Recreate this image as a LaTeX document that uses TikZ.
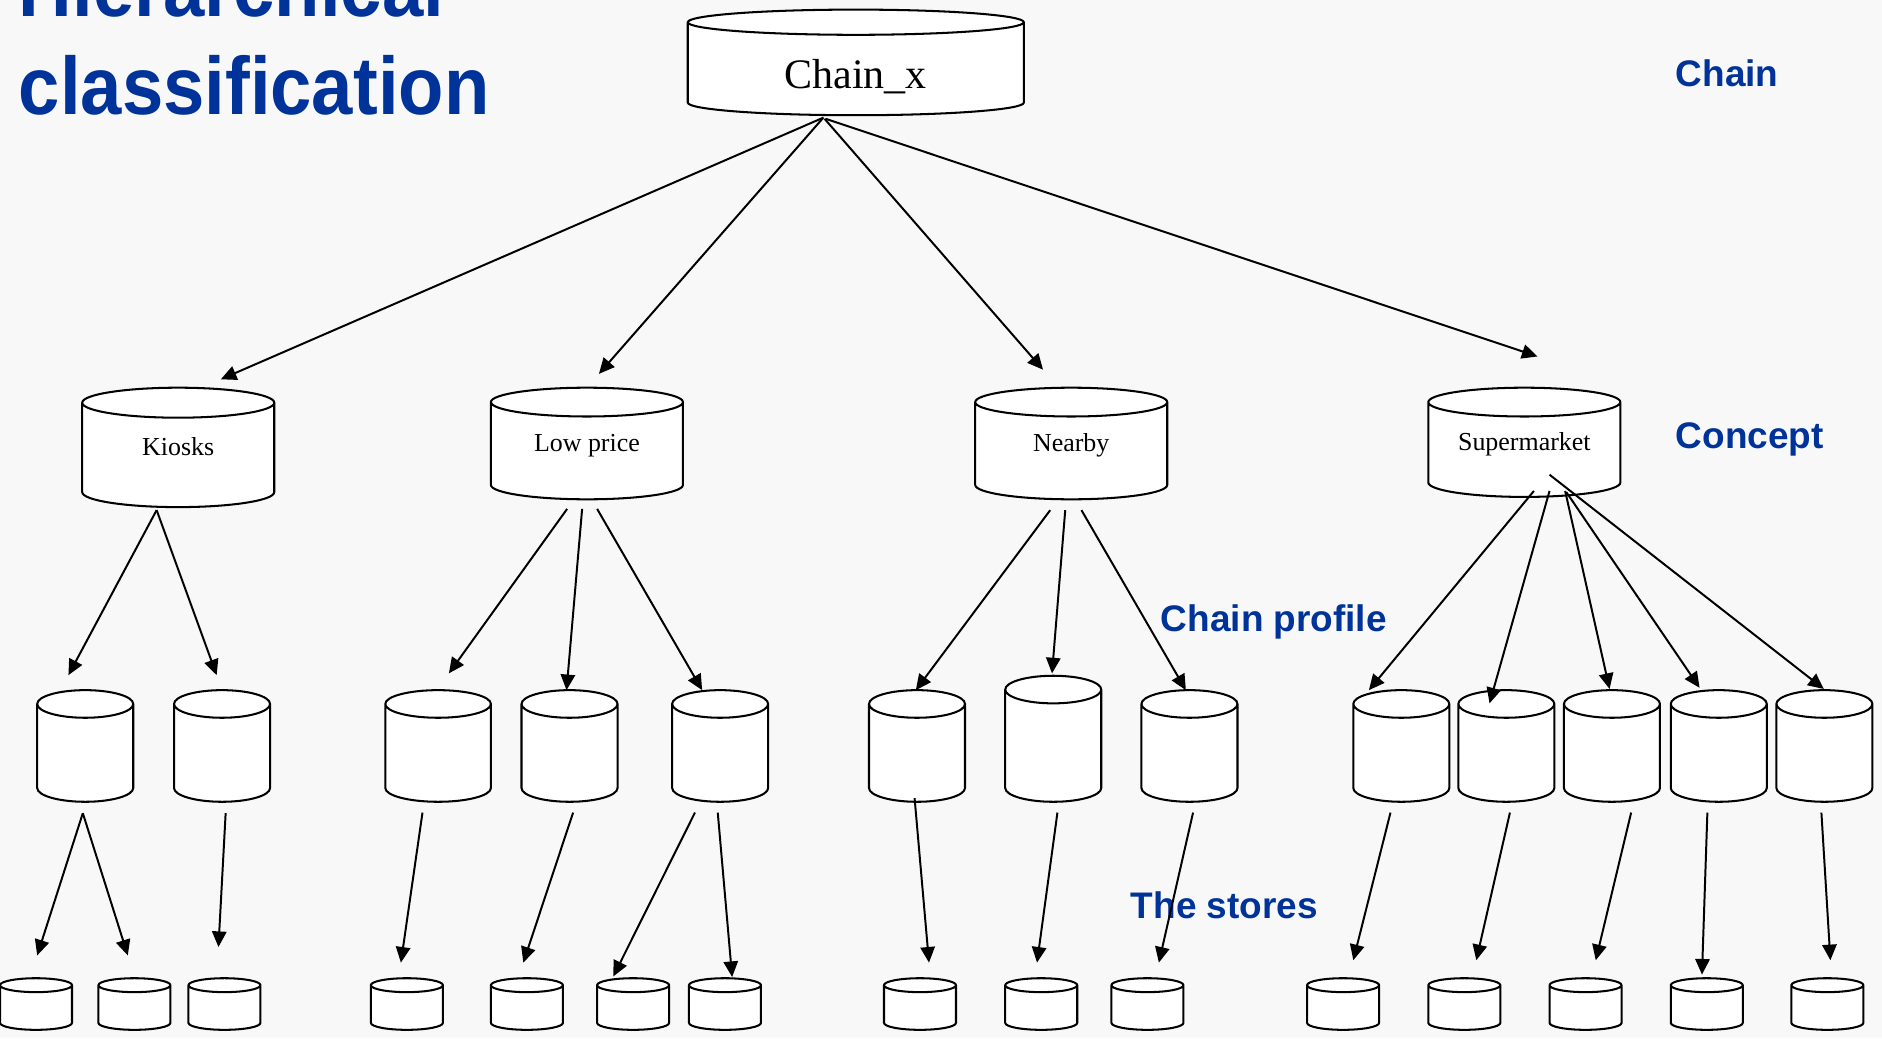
\documentclass[tikz,border=0pt]{standalone}
\usepackage{fontspec}
\setmainfont{Liberation Serif}
\newfontfamily\titlefont[FakeStretch=0.91]{Liberation Sans}
\newfontfamily\tagfont{Liberation Sans}
\usetikzlibrary{arrows.meta,calc}
\definecolor{navy}{RGB}{0,51,153}
\definecolor{paper}{RGB}{248,248,248}

% upright cylinder whose size is the node's minimum size
\makeatletter
\newdimen\canL \newdimen\canR \newdimen\canT \newdimen\canB
\newdimen\canRx \newdimen\canRy
\pgfkeys{/pgf/can cap/.initial=10pt}
\pgfdeclareshape{can}{
  \inheritsavedanchors[from=rectangle]
  \inheritanchorborder[from=rectangle]
  \inheritanchor[from=rectangle]{center}
  \inheritanchor[from=rectangle]{north}
  \inheritanchor[from=rectangle]{south}
  \inheritanchor[from=rectangle]{east}
  \inheritanchor[from=rectangle]{west}
  \inheritanchor[from=rectangle]{text}
  \inheritanchor[from=rectangle]{base}
  \inheritanchor[from=rectangle]{mid}
  \backgroundpath{%
    \southwest \canL=\pgf@x \canB=\pgf@y
    \northeast \canR=\pgf@x \canT=\pgf@y
    \pgfmathsetlength\canRy{\pgfkeysvalueof{/pgf/can cap}}%
    \canRx=.5\canR \advance\canRx by -.5\canL
    \advance\canT by -\canRy
    \advance\canB by \canRy
    \pgfpathmoveto{\pgfqpoint{\canL}{\canT}}%
    \pgfpathlineto{\pgfqpoint{\canL}{\canB}}%
    \pgfpatharc{180}{360}{\canRx and \canRy}%
    \pgfpathlineto{\pgfqpoint{\canR}{\canT}}%
    \pgfpatharc{0}{180}{\canRx and \canRy}%
    \pgfpathclose
    \pgfpathmoveto{\pgfqpoint{\canL}{\canT}}%
    \pgfpatharc{180}{360}{\canRx and \canRy}%
  }
}
\makeatother

\begin{document}
\begin{tikzpicture}[
      x=1pt, y=-1pt,
      drum/.style={shape=can, draw, fill=white, line width=1.7pt,
                   inner sep=0pt, outer sep=0pt},
      chainbox/.style={drum, minimum width=280pt, minimum height=88pt, /pgf/can cap=10.5pt,
                       font=\fontsize{35}{40}\selectfont, text height=44pt, text depth=0pt},
      concept/.style={drum, minimum width=160pt, minimum height=93pt, /pgf/can cap=12pt,
                      font=\fontsize{21.6}{25}\selectfont, text height=14pt, text depth=0pt},
      profile/.style={drum, minimum width=80pt, minimum height=93pt, /pgf/can cap=11.5pt},
      store/.style={drum, minimum width=60pt, minimum height=43pt, /pgf/can cap=5.8pt},
      tag/.style={anchor=base west, inner sep=0pt, text=navy,
                  font=\tagfont\bfseries\fontsize{30.8}{36}\selectfont},
      flow/.style={-{Triangle[length=13pt,width=12pt]}, line width=1.65pt}
    ]
    \fill[paper] (0,0) rectangle (1568,865);
    \useasboundingbox (0,0) rectangle (1568,865);

    \node[anchor=south west, inner sep=0pt, align=left, text=navy,
          font=\titlefont\bfseries\fontsize{68}{81}\selectfont] (title) at (15.5,96)
      {Hierarchical\\classification};
    \node[tag] (lchain)   at (1396,72)    {Chain};
    \node[tag] (lconcept) at (1396,373.5) {Concept};
    \node[tag] (lprofile) at (967,526)    {Chain profile};
    \node[tag] (lstores)  at (942,765)    {The stores};

    \node[chainbox] (chain) at (713,52) {Chain\_x};

    \node[concept, minimum height=99.5pt, /pgf/can cap=12.5pt] (kiosk) at (148.5,372.75) {Kiosks};
    \node[concept] (lowprice) at (489,369.5)   {Low price};
    \node[concept] (nearby)   at (892.5,369.5) {Nearby};
    \node[concept, minimum height=91pt] (superm) at (1270,368.5) {Supermarket};

    \node[profile] (kp1) at (71,621.5)  {};
    \node[profile] (kp2) at (185,621.5) {};
    \node[profile, minimum width=88pt] (lp1) at (365,621.5) {};
    \node[profile] (lp2) at (474.5,621.5) {};
    \node[profile] (lp3) at (600,621.5) {};
    \node[profile] (np1) at (764,621.5) {};
    \node[profile, minimum height=105pt] (np2) at (877.5,615.5) {};
    \node[profile] (np3) at (991,621.5) {};
    \node[profile] (sp1) at (1167.5,621.5) {};
    \node[profile] (sp2) at (1255,621.5) {};
    \node[profile] (sp3) at (1343,621.5) {};
    \node[profile] (sp4) at (1432,621.5) {};
    \node[profile] (sp5) at (1520,621.5) {};

    \node[store] (ks1) at (30,836.5)    {};
    \node[store] (ks2) at (112,836.5)   {};
    \node[store] (ks3) at (187,836.5)   {};
    \node[store] (ls1) at (339,836.5)   {};
    \node[store] (ls2) at (439,836.5)   {};
    \node[store] (ls3) at (527.5,836.5) {};
    \node[store] (ls4) at (604,836.5)   {};
    \node[store] (ns1) at (766.5,836.5) {};
    \node[store] (ns2) at (867.5,836.5) {};
    \node[store] (ns3) at (956,836.5)   {};
    \node[store] (ss1) at (1119,836.5)  {};
    \node[store] (ss2) at (1220,836.5)  {};
    \node[store] (ss3) at (1321,836.5)  {};
    \node[store] (ss4) at (1422,836.5)  {};
    \node[store] (ss5) at (1522.5,836.5) {};

    \draw[flow] ($(chain.center)+(-27,46)$) -- ($(kiosk.center)+(35.5,-56.75)$);
    \draw[flow] ($(chain.center)+(-27,46)$) -- ($(lowprice.center)+(10,-58)$);
    \draw[flow] ($(chain.center)+(-26,47)$) -- ($(nearby.center)+(-23.5,-61.5)$);
    \draw[flow] ($(chain.center)+(-25,47)$) -- ($(superm.center)+(11,-71.5)$);

    \draw[flow] ($(kiosk.center)+(-18,52.25)$) -- ($(kp1.center)+(-14,-59)$);
    \draw[flow] ($(kiosk.center)+(-18,52.25)$) -- ($(kp2.center)+(-4.5,-59)$);
    \draw[flow] ($(lowprice.center)+(-16.5,54.5)$) -- ($(lp1.center)+(9,-60.5)$);
    \draw[flow] ($(lowprice.center)+(-4,54.5)$) -- ($(lp2.center)+(-2.5,-46.5)$);
    \draw[flow] ($(lowprice.center)+(8.5,54.5)$) -- ($(lp3.center)+(-15,-46.5)$);
    \draw[flow] ($(nearby.center)+(-17.5,55.5)$) -- ($(np1.center)+(-1,-46.5)$);
    \draw[flow] ($(nearby.center)+(-5,55.5)$) -- ($(np2.center)+(-1,-54.5)$);
    \draw[flow] ($(nearby.center)+(8.5,55.5)$) -- ($(np3.center)+(-3,-46.5)$);
    \draw[flow] ($(superm.center)+(8,40.5)$) -- ($(sp1.center)+(-27,-46.5)$);
    \draw[flow] ($(superm.center)+(21,40.5)$) -- ($(sp2.center)+(-14,-35.5)$);
    \draw[flow] ($(superm.center)+(34,40.5)$) -- ($(sp3.center)+(-2,-47.5)$);
    \draw[flow] ($(superm.center)+(35,41.5)$) -- ($(sp4.center)+(-16,-48.5)$);
    \draw[flow] ($(superm.center)+(21,27)$) -- ($(sp5.center)+(-0.5,-47.5)$);

    \draw[flow] ($(kp1.center)+(-2,56)$) -- ($(ks1.center)+(1,-40.5)$);
    \draw[flow] ($(kp1.center)+(-2,56)$) -- ($(ks2.center)+(-5.5,-40.5)$);
    \draw[flow] ($(kp2.center)+(3,56)$) -- ($(ks3.center)+(-5,-47.5)$);
    \draw[flow] ($(lp1.center)+(-13,55.5)$) -- ($(ls1.center)+(-5,-34.5)$);
    \draw[flow] ($(lp2.center)+(3,55.5)$) -- ($(ls2.center)+(-3,-34.5)$);
    \draw[flow] ($(lp3.center)+(-21,55.5)$) -- ($(ls3.center)+(-16.5,-23)$);
    \draw[flow] ($(lp3.center)+(-2,55.5)$) -- ($(ls4.center)+(6,-22.5)$);
    \draw[flow] ($(np1.center)+(-2,43.5)$) -- ($(ns1.center)+(7.5,-34.5)$);
    \draw[flow] ($(np2.center)+(3.5,61.5)$) -- ($(ns2.center)+(-3.5,-34.5)$);
    \draw[flow] ($(np3.center)+(3,55.5)$) -- ($(ns3.center)+(9.5,-34.5)$);
    \draw[flow] ($(sp1.center)+(-9,55.5)$) -- ($(ss1.center)+(8.5,-36.5)$);
    \draw[flow] ($(sp2.center)+(3,55.5)$) -- ($(ss2.center)+(10,-36.5)$);
    \draw[flow] ($(sp3.center)+(16,55.5)$) -- ($(ss3.center)+(8.5,-36.5)$);
    \draw[flow] ($(sp4.center)+(-9.5,55.5)$) -- ($(ss4.center)+(-4,-24.5)$);
    \draw[flow] ($(sp5.center)+(-2.5,55.5)$) -- ($(ss5.center)+(2.5,-36.5)$);
  \end{tikzpicture}
\end{document}
